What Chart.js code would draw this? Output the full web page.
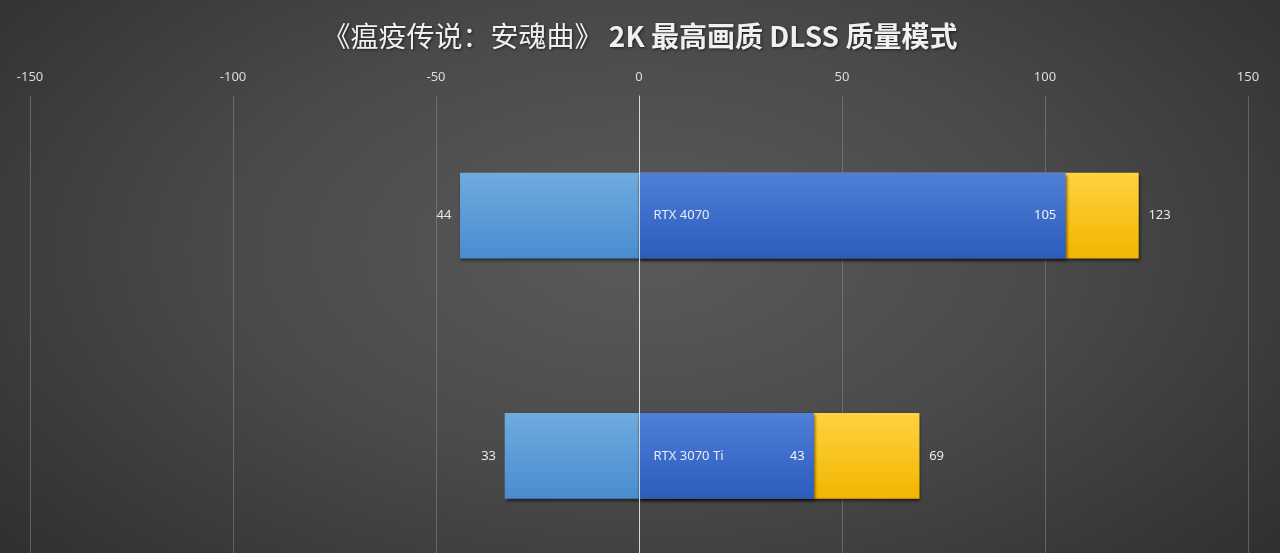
<!DOCTYPE html>
<html lang="zh">
<head>
<meta charset="UTF-8">
<title>瘟疫传说：安魂曲 2K DLSS</title>
<script src="https://cdn.jsdelivr.net/npm/chart.js"></script>
<style>
  html, body {
    margin: 0;
    padding: 0;
    width: 1280px;
    height: 553px;
    overflow: hidden;
    background: radial-gradient(ellipse 70% 90% at 50% 45%, #5a5a5a 0%, #4a4a4a 45%, #2c2c2c 100%);
  }
  #wrap {
    position: relative;
    width: 1280px;
    height: 580px;
  }
</style>
</head>
<body>
<div id="wrap"><canvas id="chart"></canvas></div>
<script>
// data
const categories = ['RTX 4070', 'RTX 3070 Ti'];
const lowValues = [-44, -33];
const dlssOffValues = [105, 43];
const dlssQualityValues = [123, 69];
const tickValues = [-150, -100, -50, 0, 50, 100, 150];

// title pieces: [text, bold]
const titleParts = [
  ['《瘟疫传说：安魂曲》 ', false],
  ['2K ', true],
  ['最高画质 ', true],
  ['DLSS ', true],
  ['质量模式', true]
];

const BAR = 85;

function barGradient(top, bottom) {
  return (c) => {
    const chart = c.chart;
    if (!chart.chartArea || !chart.scales.y) return top;
    const yc = chart.scales.y.getPixelForValue(c.dataIndex);
    const g = chart.ctx.createLinearGradient(0, yc - BAR / 2, 0, yc + BAR / 2);
    g.addColorStop(0, top);
    g.addColorStop(1, bottom);
    return g;
  };
}

// shadow under bars + zero line on top + value labels + title
const extras = {
  id: 'extras',
  beforeDatasetDraw(chart) {
    const ctx = chart.ctx;
    ctx.save();
    ctx.shadowColor = 'rgba(0,0,0,0.55)';
    ctx.shadowBlur = 3;
    ctx.shadowOffsetX = 1;
    ctx.shadowOffsetY = 2;
  },
  afterDatasetDraw(chart) {
    chart.ctx.restore();
  },
  afterDatasetsDraw(chart) {
    const ctx = chart.ctx;
    const x = chart.scales.x, y = chart.scales.y;
    const area = chart.chartArea;
    ctx.save();
    // zero line
    const x0 = Math.round(x.getPixelForValue(0)) + 0.5;
    ctx.strokeStyle = 'rgba(235,235,235,0.85)';
    ctx.lineWidth = 1;
    ctx.beginPath();
    ctx.moveTo(x0, area.top);
    ctx.lineTo(x0, area.bottom);
    ctx.stroke();

    ctx.font = '13px "Noto Sans", sans-serif';
    ctx.textBaseline = 'middle';
    categories.forEach((cat, i) => {
      const yc = y.getPixelForValue(i);
      ctx.fillStyle = '#e6ecf8';
      ctx.textAlign = 'left';
      ctx.fillText(cat, x0 + 14, yc);
      ctx.fillStyle = '#e8e8e8';
      ctx.textAlign = 'right';
      ctx.fillText(String(Math.abs(lowValues[i])), x.getPixelForValue(lowValues[i]) - 9, yc);
      ctx.fillStyle = '#eef2fb';
      ctx.fillText(String(dlssOffValues[i]), x.getPixelForValue(dlssOffValues[i]) - 9, yc);
      ctx.fillStyle = '#e8e8e8';
      ctx.textAlign = 'left';
      ctx.fillText(String(dlssQualityValues[i]), x.getPixelForValue(dlssQualityValues[i]) + 10, yc);
    });

    // title
    const fontOf = (b) => (b ? 'bold ' : '') + '28px "Noto Sans CJK SC", sans-serif';
    let total = 0;
    titleParts.forEach(([t, b]) => { ctx.font = fontOf(b); total += ctx.measureText(t).width; });
    let tx = 640 - total / 2;
    ctx.textAlign = 'left';
    ctx.textBaseline = 'middle';
    ctx.shadowColor = 'rgba(0,0,0,0.6)';
    ctx.shadowBlur = 3;
    ctx.shadowOffsetX = 1;
    ctx.shadowOffsetY = 1;
    ctx.fillStyle = '#f0f0f0';
    titleParts.forEach(([t, b]) => {
      ctx.font = fontOf(b);
      ctx.fillText(t, tx, 36);
      tx += ctx.measureText(t).width;
    });
    ctx.restore();
  }
};

new Chart(document.getElementById('chart'), {
  type: 'bar',
  data: {
    labels: categories,
    datasets: [
      {
        label: 'DLSS 关',
        data: dlssOffValues,
        backgroundColor: barGradient('#4f7fd6', '#2c5cbd'),
        grouped: false,
        barThickness: BAR,
        order: 1
      },
      {
        label: '1% Low',
        data: lowValues,
        backgroundColor: barGradient('#6eabdf', '#4a8ccf'),
        grouped: false,
        barThickness: BAR,
        order: 2
      },
      {
        label: 'DLSS 质量',
        data: dlssQualityValues,
        backgroundColor: barGradient('#ffd23f', '#f2b600'),
        grouped: false,
        barThickness: BAR,
        order: 3
      }
    ]
  },
  options: {
    indexAxis: 'y',
    responsive: true,
    maintainAspectRatio: false,
    animation: false,
    layout: { padding: { left: 30, right: 32, top: 58, bottom: 4 } },
    plugins: {
      legend: { display: false },
      tooltip: { enabled: false },
      title: { display: false }
    },
    scales: {
      x: {
        position: 'top',
        min: -150,
        max: 150,
        afterBuildTicks: (axis) => { axis.ticks = tickValues.map(v => ({ value: v })); },
        grid: {
          color: 'rgba(150,150,150,0.45)',
          drawTicks: false
        },
        border: { display: false },
        ticks: {
          color: '#dcdcdc',
          font: { family: '"Noto Sans", sans-serif', size: 13 },
          padding: 11
        }
      },
      y: {
        display: false,
        grid: { display: false }
      }
    }
  },
  plugins: [extras]
});
</script>
</body>
</html>
